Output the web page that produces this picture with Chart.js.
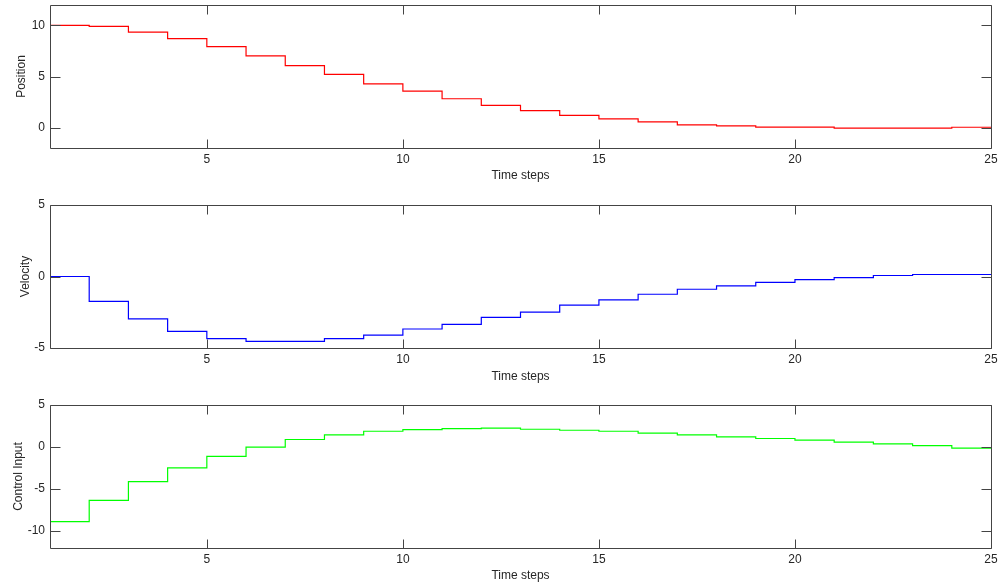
<!DOCTYPE html>
<html>
<head>
<meta charset="utf-8">
<script src="https://cdn.jsdelivr.net/npm/chart.js@4/dist/chart.umd.min.js"></script>
<style>
  html, body { margin: 0; padding: 0; background: #fff; overflow: hidden; }
  .wrap { position: absolute; left: 0; width: 1002px; height: 195px; }
  canvas { display: block; }
</style>
</head>
<body>
<div class="wrap" style="top:0px"><canvas id="c1" width="1002" height="195"></canvas></div>
<div class="wrap" style="top:195px"><canvas id="c2" width="1002" height="195"></canvas></div>
<div class="wrap" style="top:395px"><canvas id="c3" width="1002" height="195"></canvas></div>
<script>
// ---- data ----
const steps = [1,2,3,4,5,6,7,8,9,10,11,12,13,14,15,16,17,18,19,20,21,22,23,24,25];
const position = [10.0, 9.90, 9.35, 8.70, 7.92, 7.01, 6.07, 5.20, 4.28, 3.57, 2.82, 2.18, 1.65, 1.20, 0.85, 0.55, 0.26, 0.16, 0.04, 0.04, -0.06, -0.06, -0.06, 0.03, 0.03];
const velocity = [0.0, -1.74, -2.97, -3.84, -4.35, -4.53, -4.53, -4.35, -4.10, -3.67, -3.35, -2.86, -2.49, -2.00, -1.63, -1.24, -0.89, -0.66, -0.41, -0.22, -0.08, 0.07, 0.14, 0.14, 0.14];
const controlInput = [-8.86, -6.35, -4.12, -2.47, -1.10, 0.0, 0.90, 1.45, 1.88, 2.08, 2.20, 2.24, 2.12, 2.00, 1.88, 1.65, 1.45, 1.22, 1.02, 0.82, 0.59, 0.39, 0.16, -0.12, -0.04];
const xTicks = [5, 10, 15, 20, 25];
const posTicks = [0, 5, 10];
const velTicks = [-5, 0, 5];
const ctrlTicks = [-10, -5, 0, 5];
const xTitle = 'Time steps';

const tickFont = { family: "'Liberation Sans Narrow', 'Arial Narrow', 'Liberation Sans', Arial, sans-serif", size: 12 };
const titleFont = { family: "'Liberation Sans', Arial, sans-serif", size: 12 };
const textColor = '#262626';
const frameColor = '#444444';

const framePlugin = {
  id: 'frame',
  afterDatasetsDraw(chart) {
    const { ctx, chartArea, scales } = chart;
    const L = Math.round(chartArea.left) + 0.5;
    const R = Math.round(chartArea.right) + 0.5;
    const T = Math.round(chartArea.top) + 0.5;
    const B = Math.round(chartArea.bottom) + 0.5;
    ctx.save();
    ctx.strokeStyle = frameColor;
    ctx.lineWidth = 1;
    ctx.beginPath();
    ctx.rect(L, T, R - L, B - T);
    ctx.stroke();
    ctx.beginPath();
    scales.x.ticks.forEach(t => {
      const px = Math.round(scales.x.getPixelForValue(t.value)) + 0.5;
      ctx.moveTo(px, B); ctx.lineTo(px, B - 9);
      ctx.moveTo(px, T); ctx.lineTo(px, T + 9);
    });
    scales.y.ticks.forEach(t => {
      const py = Math.round(scales.y.getPixelForValue(t.value)) + 0.5;
      ctx.moveTo(L, py); ctx.lineTo(L + 10, py);
      ctx.moveTo(R, py); ctx.lineTo(R - 10, py);
    });
    ctx.stroke();
    ctx.restore();
  }
};

function makeChart(id, values, color, yMin, yMax, yTicks, yTitle, yTitlePad, topPad, xTitlePad) {
  const pts = steps.map((s, i) => ({ x: s, y: values[i] }));
  return new Chart(document.getElementById(id), {
    type: 'line',
    data: {
      datasets: [{
        data: pts,
        borderColor: color,
        borderWidth: 1.2,
        pointRadius: 0,
        stepped: 'before',
        fill: false
      }]
    },
    options: {
      responsive: false,
      animation: false,
      devicePixelRatio: 1,
      layout: { padding: { top: topPad, right: 11, left: 0, bottom: 0 } },
      plugins: { legend: { display: false }, tooltip: { enabled: false } },
      scales: {
        x: {
          type: 'linear',
          min: 1, max: 25,
          grid: { display: false, drawTicks: false },
          border: { display: false },
          ticks: { font: tickFont, color: textColor, padding: 4, maxRotation: 0, autoSkip: false },
          afterBuildTicks: s => { s.ticks = xTicks.map(v => ({ value: v })); },
          afterFit: s => { s.height = 195 - topPad - 143; s.paddingLeft = 0; s.paddingRight = 0; s.paddingTop = 0; s.paddingBottom = 0; },
          title: { display: true, text: xTitle, font: titleFont, color: textColor, padding: { top: 0, bottom: xTitlePad } }
        },
        y: {
          min: yMin, max: yMax,
          grid: { display: false, drawTicks: false },
          border: { display: false },
          ticks: { font: tickFont, color: textColor, padding: 5 },
          afterBuildTicks: s => { s.ticks = yTicks.map(v => ({ value: v })); },
          afterFit: s => { s.width = 50; s.paddingLeft = 0; s.paddingRight = 0; s.paddingTop = 0; s.paddingBottom = 0; },
          title: { display: true, text: yTitle, font: titleFont, color: textColor, padding: { top: yTitlePad, bottom: 0 } }
        }
      }
    },
    plugins: [framePlugin]
  });
}

makeChart('c1', position, '#ff0000', -2, 12, posTicks, 'Position', 14.3, 5, 11.8);
makeChart('c2', velocity, '#0000ff', -5, 5, velTicks, 'Velocity', 18, 10, 5.8);
makeChart('c3', controlInput, '#00ff00', -12, 5, ctrlTicks, 'Control Input', 11.3, 10, 6.8);
</script>
</body>
</html>
